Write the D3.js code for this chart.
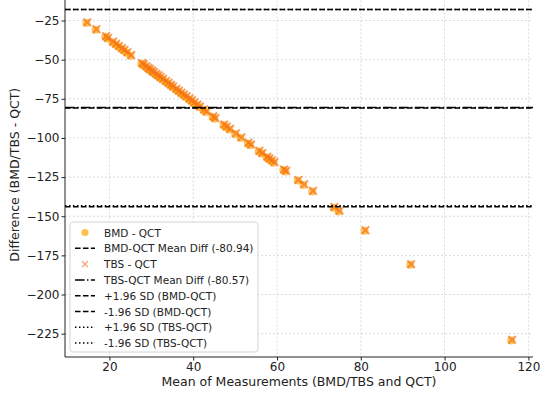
<!DOCTYPE html>
<html>
<head>
<meta charset="utf-8">
<script src="https://cdn.jsdelivr.net/npm/d3@7"></script>
<style>
  body { margin: 0; background: #fff; }
  svg { display: block; }
</style>
</head>
<body>
<div id="chart"></div>
<script>
// means and differences
var bmdMean = [14.5, 16.7, 19.0, 19.5, 20.7, 21.4, 22.1, 22.8, 23.4, 24.1, 25.0,
  27.6, 28.0, 28.6, 29.1, 29.5, 30.0, 30.4, 31.0, 31.5, 32.0, 32.6, 33.3, 33.9,
  34.5, 35.0, 35.8, 36.4, 37.0, 37.6, 38.2, 38.9, 39.5, 40.1, 40.8, 41.4, 42.4,
  43.0, 44.6, 45.1, 47.2, 47.8, 48.6, 50.0, 51.3, 53.0, 53.6, 55.6, 56.3, 57.5,
  58.0, 58.6, 59.2, 61.5, 62.0, 64.9, 66.3, 68.4, 73.5, 74.7, 80.9, 91.8, 115.9];
var bmdDiff = [-26.5, -30.9, -35.4, -36.5, -38.8, -40.3, -41.6, -43.0, -44.2, -45.6, -47.5,
  -52.6, -53.4, -54.6, -55.7, -56.4, -57.4, -58.3, -59.4, -60.4, -61.5, -62.6, -64.0, -65.2,
  -66.4, -67.5, -69.0, -70.2, -71.5, -72.6, -73.8, -75.2, -76.4, -77.7, -79.0, -80.3, -82.2,
  -83.5, -86.6, -87.7, -91.8, -93.1, -94.6, -97.5, -100.0, -103.5, -104.6, -108.6, -110.0, -112.4,
  -113.5, -114.6, -115.8, -120.5, -121.4, -127.2, -130.0, -134.2, -144.5, -146.9, -159.3, -181.0, -229.3];

var tbsMean = [14.7, 16.9, 19.2, 19.7, 20.9, 21.6, 22.3, 23.0, 23.6, 24.3, 25.2,
  27.8, 28.2, 28.8, 29.3, 29.7, 30.2, 30.6, 31.2, 31.7, 32.2, 32.8, 33.5, 34.1,
  34.7, 35.2, 36.0, 36.6, 37.2, 37.8, 38.4, 39.1, 39.7, 40.3, 41.0, 41.6, 42.6,
  43.2, 44.8, 45.3, 47.4, 48.0, 48.8, 50.2, 51.5, 53.2, 53.8, 55.8, 56.5, 57.7,
  58.2, 58.8, 59.4, 61.7, 62.2, 65.1, 66.5, 68.6, 73.7, 74.9, 81.1, 92.0, 116.1];
var tbsDiff = [-26.1, -30.5, -35.0, -36.1, -38.4, -39.9, -41.2, -42.6, -43.8, -45.2, -47.1,
  -52.2, -53.0, -54.2, -55.3, -56.0, -57.0, -57.9, -59.0, -60.0, -61.1, -62.2, -63.6, -64.8,
  -66.0, -67.1, -68.6, -69.8, -71.1, -72.2, -73.4, -74.8, -76.0, -77.3, -78.6, -79.9, -81.8,
  -83.1, -86.2, -87.3, -91.4, -92.7, -94.2, -97.1, -99.6, -103.1, -104.2, -108.2, -109.6, -112.0,
  -113.1, -114.2, -115.4, -120.1, -121.0, -126.8, -129.6, -133.8, -144.1, -146.5, -158.9, -180.6, -228.9];

var refLabels = ["BMD-QCT Mean Diff (-80.94)", "TBS-QCT Mean Diff (-80.57)",
  "+1.96 SD (BMD-QCT)", "-1.96 SD (BMD-QCT)", "+1.96 SD (TBS-QCT)", "-1.96 SD (TBS-QCT)"];
var refValues = [-80.94, -80.57, -18.0, -143.9, -17.9, -143.3];
var refDash = ["5.55,2.4", "9.6,2.4,1.5,2.4", "5.55,2.4", "5.55,2.4", "1.5,2.475", "1.5,2.475"];

var xTicks = [20, 40, 60, 80, 100, 120];
var yTicks = [-25, -50, -75, -100, -125, -150, -175, -200, -225];

var FONT = "DejaVu Sans";
var width = 550, height = 396;
var plotLeft = 65, plotRight = 533, plotTop = -7.5, plotBottom = 357;

var svg = d3.select("#chart").append("svg")
  .attr("width", width).attr("height", height);

var x = d3.scaleLinear().domain([9.4, 121.1]).range([plotLeft, plotRight]);
var y = d3.scaleLinear().domain([-239.9, -7.1]).range([plotBottom, plotTop]);

// grid
var grid = svg.append("g");
grid.selectAll("line.gx").data(xTicks).join("line")
  .attr("x1", d => x(d)).attr("x2", d => x(d))
  .attr("y1", plotTop).attr("y2", plotBottom)
  .attr("stroke", "#cfcfcf").attr("stroke-width", 0.8).attr("stroke-dasharray", "2,2");
grid.selectAll("line.gy").data(yTicks).join("line")
  .attr("x1", plotLeft).attr("x2", plotRight)
  .attr("y1", d => y(d)).attr("y2", d => y(d))
  .attr("stroke", "#cfcfcf").attr("stroke-width", 0.8).attr("stroke-dasharray", "2,2");

// points
var bmd = bmdMean.map((m, i) => ({ m: m, d: bmdDiff[i] }));
var tbs = tbsMean.map((m, i) => ({ m: m, d: tbsDiff[i] }));

svg.append("g").selectAll("circle").data(bmd).join("circle")
  .attr("cx", d => x(d.m)).attr("cy", d => y(d.d)).attr("r", 4)
  .attr("fill", "#ffa500").attr("fill-opacity", 0.65);

var xs = 3.8;
svg.append("g").selectAll("path").data(tbs).join("path")
  .attr("d", d => {
    var cx = x(d.m), cy = y(d.d);
    return "M" + (cx - xs) + "," + (cy - xs) + "L" + (cx + xs) + "," + (cy + xs) +
      "M" + (cx - xs) + "," + (cy + xs) + "L" + (cx + xs) + "," + (cy - xs);
  })
  .attr("stroke", "#f5741a").attr("stroke-width", 2).attr("stroke-opacity", 0.7)
  .attr("fill", "none");

// reference lines
svg.append("g").selectAll("line").data(refValues).join("line")
  .attr("x1", plotLeft).attr("x2", plotRight)
  .attr("y1", d => y(d)).attr("y2", d => y(d))
  .attr("stroke", "#000").attr("stroke-width", 1.5)
  .attr("stroke-dasharray", (d, i) => refDash[i]);

// axes
var xAxis = svg.append("g").attr("transform", "translate(0," + plotBottom + ")")
  .call(d3.axisBottom(x).tickValues(xTicks).tickSize(3.5).tickPadding(2));
var yAxis = svg.append("g").attr("transform", "translate(" + plotLeft + ",0)")
  .call(d3.axisLeft(y).tickValues(yTicks).tickSize(3.5).tickPadding(2)
    .tickFormat(d => String(d).replace("-", "\u2212")));
[xAxis, yAxis].forEach(a => {
  a.attr("font-family", FONT).attr("font-size", 12);
  a.selectAll("text").attr("font-size", 12).attr("fill", "#222")
    .attr("font-family", FONT);
  a.select(".domain").attr("stroke", "#222").attr("stroke-width", 1);
  a.selectAll(".tick line").attr("stroke", "#222");
});
xAxis.select(".domain").attr("d", "M" + plotLeft + ",0H" + plotRight);
yAxis.select(".domain").attr("d", "M0," + plotTop + "V" + plotBottom);

svg.append("text").attr("x", (plotLeft + plotRight) / 2).attr("y", 386)
  .attr("text-anchor", "middle").attr("font-family", FONT).attr("font-size", 12.5).attr("fill", "#222")
  .text("Mean of Measurements (BMD/TBS and QCT)");
svg.append("text")
  .attr("transform", "translate(19," + (plotTop + plotBottom) / 2 + ") rotate(-90)")
  .attr("text-anchor", "middle").attr("font-family", FONT).attr("font-size", 12.5).attr("fill", "#222")
  .text("Difference (BMD/TBS - QCT)");

// legend
var legendItems = [
  { label: "BMD - QCT", kind: "circle" },
  { label: refLabels[0], kind: "line", dash: refDash[0] },
  { label: "TBS - QCT", kind: "x" },
  { label: refLabels[1], kind: "line", dash: refDash[1] },
  { label: refLabels[2], kind: "line", dash: refDash[2] },
  { label: refLabels[3], kind: "line", dash: refDash[3] },
  { label: refLabels[4], kind: "line", dash: refDash[4] },
  { label: refLabels[5], kind: "line", dash: refDash[5] }
];
var lg = svg.append("g").attr("transform", "translate(70,222)");
lg.append("rect").attr("width", 188).attr("height", 130).attr("rx", 3)
  .attr("fill", "#fff").attr("fill-opacity", 0.85)
  .attr("stroke", "#d5d5d5").attr("stroke-width", 1);
var row = lg.selectAll("g.row").data(legendItems).join("g")
  .attr("transform", (d, i) => "translate(0," + (10.5 + i * 15.8) + ")");
row.each(function (d) {
  var g = d3.select(this);
  if (d.kind === "circle") {
    g.append("circle").attr("cx", 15).attr("cy", 0).attr("r", 3.6)
      .attr("fill", "#ffa500").attr("fill-opacity", 0.7);
  } else if (d.kind === "x") {
    g.append("path").attr("d", "M12,-3L18,3M12,3L18,-3")
      .attr("stroke", "#f0661a").attr("stroke-opacity", 0.65).attr("stroke-width", 1.3);
  } else {
    g.append("line").attr("x1", 5).attr("x2", 25).attr("y1", 0).attr("y2", 0)
      .attr("stroke", "#000").attr("stroke-width", 1.5).attr("stroke-dasharray", d.dash);
  }
  g.append("text").attr("x", 34).attr("y", 4).attr("font-family", FONT)
    .attr("font-size", 10.5).attr("fill", "#222")
    .text(d.label);
});
</script>
</body>
</html>
